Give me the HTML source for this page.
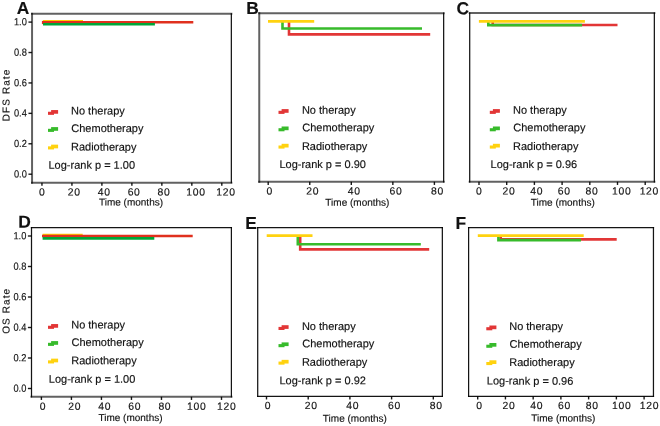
<!DOCTYPE html>
<html><head><meta charset="utf-8"><style>
html,body{margin:0;padding:0;background:#fff;}
body{width:660px;height:426px;overflow:hidden;}
svg{display:block;will-change:transform;}
text{font-family:"Liberation Sans",sans-serif;text-rendering:geometricPrecision;fill:#111;stroke:#111;stroke-width:0.15px;}
</style></head><body>
<svg width="660" height="426" viewBox="0 0 660 426">
<rect width="660" height="426" fill="#fff"/>
<line x1="32.05" y1="13.85" x2="32.05" y2="182.65" stroke="#000" stroke-width="2.0" stroke-opacity="0.62" stroke-linecap="square"/>
<line x1="32.05" y1="13.85" x2="231.35" y2="13.85" stroke="#000" stroke-width="2.0" stroke-opacity="0.62" stroke-linecap="square"/>
<line x1="231.35" y1="13.85" x2="231.35" y2="182.65" stroke="#000" stroke-width="1.25" stroke-opacity="0.92" stroke-linecap="square"/>
<line x1="32.05" y1="182.65" x2="231.35" y2="182.65" stroke="#000" stroke-width="2.0" stroke-opacity="0.62" stroke-linecap="square"/>
<text transform="translate(16.75 14.00) rotate(0.05)" font-size="17.4" text-anchor="start" font-weight="bold">A</text>
<line x1="41.95" y1="182.65" x2="41.95" y2="185.85" stroke="#000" stroke-width="1.4" stroke-opacity="0.9"/>
<text transform="translate(42.30 195.60) rotate(0.05)" font-size="10.4" text-anchor="middle" font-weight="normal" letter-spacing="0.7">0</text>
<line x1="71.93" y1="182.65" x2="71.93" y2="185.85" stroke="#000" stroke-width="1.4" stroke-opacity="0.9"/>
<text transform="translate(74.18 195.60) rotate(0.05)" font-size="10.4" text-anchor="middle" font-weight="normal" letter-spacing="0.7">20</text>
<line x1="101.90" y1="182.65" x2="101.90" y2="185.85" stroke="#000" stroke-width="1.4" stroke-opacity="0.9"/>
<text transform="translate(104.15 195.60) rotate(0.05)" font-size="10.4" text-anchor="middle" font-weight="normal" letter-spacing="0.7">40</text>
<line x1="131.88" y1="182.65" x2="131.88" y2="185.85" stroke="#000" stroke-width="1.4" stroke-opacity="0.9"/>
<text transform="translate(134.12 195.60) rotate(0.05)" font-size="10.4" text-anchor="middle" font-weight="normal" letter-spacing="0.7">60</text>
<line x1="161.85" y1="182.65" x2="161.85" y2="185.85" stroke="#000" stroke-width="1.4" stroke-opacity="0.9"/>
<text transform="translate(164.10 195.60) rotate(0.05)" font-size="10.4" text-anchor="middle" font-weight="normal" letter-spacing="0.7">80</text>
<line x1="191.83" y1="182.65" x2="191.83" y2="185.85" stroke="#000" stroke-width="1.4" stroke-opacity="0.9"/>
<text transform="translate(195.98 195.60) rotate(0.05)" font-size="10.4" text-anchor="middle" font-weight="normal" letter-spacing="0.7">100</text>
<line x1="221.80" y1="182.65" x2="221.80" y2="185.85" stroke="#000" stroke-width="1.4" stroke-opacity="0.9"/>
<text transform="translate(225.95 195.60) rotate(0.05)" font-size="10.4" text-anchor="middle" font-weight="normal" letter-spacing="0.7">120</text>
<text transform="translate(131.00 205.60) rotate(0.05)" font-size="10" text-anchor="middle" font-weight="normal">Time (months)</text>
<line x1="28.45" y1="174.20" x2="32.05" y2="174.20" stroke="#000" stroke-width="1.4" stroke-opacity="0.9"/>
<text transform="translate(26.85 177.40) rotate(0.05) scale(0.9 1)" font-size="10.3" text-anchor="end" font-weight="normal">0.0</text>
<line x1="28.45" y1="143.78" x2="32.05" y2="143.78" stroke="#000" stroke-width="1.4" stroke-opacity="0.9"/>
<text transform="translate(26.85 146.98) rotate(0.05) scale(0.9 1)" font-size="10.3" text-anchor="end" font-weight="normal">0.2</text>
<line x1="28.45" y1="113.36" x2="32.05" y2="113.36" stroke="#000" stroke-width="1.4" stroke-opacity="0.9"/>
<text transform="translate(26.85 116.56) rotate(0.05) scale(0.9 1)" font-size="10.3" text-anchor="end" font-weight="normal">0.4</text>
<line x1="28.45" y1="82.94" x2="32.05" y2="82.94" stroke="#000" stroke-width="1.4" stroke-opacity="0.9"/>
<text transform="translate(26.85 86.14) rotate(0.05) scale(0.9 1)" font-size="10.3" text-anchor="end" font-weight="normal">0.6</text>
<line x1="28.45" y1="52.52" x2="32.05" y2="52.52" stroke="#000" stroke-width="1.4" stroke-opacity="0.9"/>
<text transform="translate(26.85 55.72) rotate(0.05) scale(0.9 1)" font-size="10.3" text-anchor="end" font-weight="normal">0.8</text>
<line x1="28.45" y1="22.10" x2="32.05" y2="22.10" stroke="#000" stroke-width="1.4" stroke-opacity="0.9"/>
<text transform="translate(26.85 25.30) rotate(0.05) scale(0.9 1)" font-size="10.3" text-anchor="end" font-weight="normal">1.0</text>
<text transform="translate(9.50 94.95) rotate(-89.95)" font-size="10" text-anchor="middle" font-weight="normal" letter-spacing="1.1">DFS Rate</text>
<polyline points="43.00,21.30 83.00,21.30" fill="none" stroke="#ffcd00" stroke-width="2.6" stroke-linejoin="miter" stroke-linecap="butt"/>
<polyline points="42.20,22.20 193.30,22.20" fill="none" stroke="#e0301e" stroke-width="2.6" stroke-linejoin="miter" stroke-linecap="butt"/>
<rect x="41.90" y="20.90" width="1.20" height="3.20" fill="#e0301e"/>
<polyline points="43.00,24.20 154.90,24.20" fill="none" stroke="#00a638" stroke-width="2.6" stroke-linejoin="miter" stroke-linecap="butt"/>
<rect x="48.00" y="111.75" width="6.00" height="3.10" fill="#e23636"/>
<rect x="51.10" y="110.05" width="7.00" height="3.70" fill="#e23636"/>
<text transform="translate(71.00 114.45) rotate(0.05)" font-size="11" text-anchor="start" font-weight="normal">No therapy</text>
<rect x="48.00" y="128.80" width="6.00" height="3.10" fill="#37bb2b"/>
<rect x="51.10" y="127.10" width="7.00" height="3.70" fill="#37bb2b"/>
<text transform="translate(71.30 132.00) rotate(0.05)" font-size="11" text-anchor="start" font-weight="normal">Chemotherapy</text>
<rect x="48.00" y="146.35" width="6.00" height="3.10" fill="#ffd20f"/>
<rect x="51.10" y="144.65" width="7.00" height="3.70" fill="#ffd20f"/>
<text transform="translate(71.00 150.60) rotate(0.05)" font-size="11" text-anchor="start" font-weight="normal">Radiotherapy</text>
<text transform="translate(48.50 168.70) rotate(0.05)" font-size="11" text-anchor="start" font-weight="normal">Log-rank p = 1.00</text>
<line x1="259.25" y1="13.15" x2="259.25" y2="181.75" stroke="#000" stroke-width="2.0" stroke-opacity="0.62" stroke-linecap="square"/>
<line x1="259.25" y1="13.15" x2="443.65" y2="13.15" stroke="#000" stroke-width="2.0" stroke-opacity="0.62" stroke-linecap="square"/>
<line x1="443.65" y1="13.15" x2="443.65" y2="181.75" stroke="#000" stroke-width="1.25" stroke-opacity="0.92" stroke-linecap="square"/>
<line x1="259.25" y1="181.75" x2="443.65" y2="181.75" stroke="#000" stroke-width="2.0" stroke-opacity="0.62" stroke-linecap="square"/>
<text transform="translate(246.35 14.10) rotate(0.05)" font-size="17.4" text-anchor="start" font-weight="bold">B</text>
<line x1="268.20" y1="181.75" x2="268.20" y2="184.95" stroke="#000" stroke-width="1.4" stroke-opacity="0.9"/>
<text transform="translate(269.75 194.55) rotate(0.05)" font-size="10.4" text-anchor="middle" font-weight="normal" letter-spacing="0.7">0</text>
<line x1="309.75" y1="181.75" x2="309.75" y2="184.95" stroke="#000" stroke-width="1.4" stroke-opacity="0.9"/>
<text transform="translate(312.80 194.55) rotate(0.05)" font-size="10.4" text-anchor="middle" font-weight="normal" letter-spacing="0.7">20</text>
<line x1="351.30" y1="181.75" x2="351.30" y2="184.95" stroke="#000" stroke-width="1.4" stroke-opacity="0.9"/>
<text transform="translate(354.35 194.55) rotate(0.05)" font-size="10.4" text-anchor="middle" font-weight="normal" letter-spacing="0.7">40</text>
<line x1="392.85" y1="181.75" x2="392.85" y2="184.95" stroke="#000" stroke-width="1.4" stroke-opacity="0.9"/>
<text transform="translate(395.90 194.55) rotate(0.05)" font-size="10.4" text-anchor="middle" font-weight="normal" letter-spacing="0.7">60</text>
<line x1="434.40" y1="181.75" x2="434.40" y2="184.95" stroke="#000" stroke-width="1.4" stroke-opacity="0.9"/>
<text transform="translate(437.45 194.55) rotate(0.05)" font-size="10.4" text-anchor="middle" font-weight="normal" letter-spacing="0.7">80</text>
<text transform="translate(357.40 205.70) rotate(0.05)" font-size="10" text-anchor="middle" font-weight="normal">Time (months)</text>
<polyline points="289.00,21.40 289.00,34.40 430.20,34.40" fill="none" stroke="#e23636" stroke-width="2.6" stroke-linejoin="miter" stroke-linecap="butt"/>
<polyline points="282.50,21.40 282.50,28.55 422.00,28.55" fill="none" stroke="#37bb2b" stroke-width="2.6" stroke-linejoin="miter" stroke-linecap="butt"/>
<polyline points="268.00,21.40 314.20,21.40" fill="none" stroke="#ffd20f" stroke-width="2.6" stroke-linejoin="miter" stroke-linecap="butt"/>
<rect x="278.50" y="110.80" width="6.00" height="3.10" fill="#e23636"/>
<rect x="281.60" y="109.10" width="7.00" height="3.70" fill="#e23636"/>
<text transform="translate(301.90 113.75) rotate(0.05)" font-size="11" text-anchor="start" font-weight="normal">No therapy</text>
<rect x="278.50" y="128.20" width="6.00" height="3.10" fill="#37bb2b"/>
<rect x="281.60" y="126.50" width="7.00" height="3.70" fill="#37bb2b"/>
<text transform="translate(302.20 131.20) rotate(0.05)" font-size="11" text-anchor="start" font-weight="normal">Chemotherapy</text>
<rect x="278.50" y="145.50" width="6.00" height="3.10" fill="#ffd20f"/>
<rect x="281.60" y="143.80" width="7.00" height="3.70" fill="#ffd20f"/>
<text transform="translate(301.90 150.00) rotate(0.05)" font-size="11" text-anchor="start" font-weight="normal">Radiotherapy</text>
<text transform="translate(279.40 168.00) rotate(0.05)" font-size="11" text-anchor="start" font-weight="normal">Log-rank p = 0.90</text>
<line x1="469.70" y1="13.05" x2="469.70" y2="181.75" stroke="#000" stroke-width="1.25" stroke-opacity="0.92" stroke-linecap="square"/>
<line x1="469.70" y1="13.05" x2="654.35" y2="13.05" stroke="#000" stroke-width="2.0" stroke-opacity="0.62" stroke-linecap="square"/>
<line x1="654.35" y1="13.05" x2="654.35" y2="181.75" stroke="#000" stroke-width="1.25" stroke-opacity="0.92" stroke-linecap="square"/>
<line x1="469.70" y1="181.75" x2="654.35" y2="181.75" stroke="#000" stroke-width="2.0" stroke-opacity="0.62" stroke-linecap="square"/>
<text transform="translate(456.45 14.30) rotate(0.05)" font-size="17.4" text-anchor="start" font-weight="bold">C</text>
<line x1="479.00" y1="181.75" x2="479.00" y2="184.95" stroke="#000" stroke-width="1.4" stroke-opacity="0.9"/>
<text transform="translate(479.35 194.40) rotate(0.05)" font-size="10.4" text-anchor="middle" font-weight="normal" letter-spacing="0.7">0</text>
<line x1="506.70" y1="181.75" x2="506.70" y2="184.95" stroke="#000" stroke-width="1.4" stroke-opacity="0.9"/>
<text transform="translate(508.95 194.40) rotate(0.05)" font-size="10.4" text-anchor="middle" font-weight="normal" letter-spacing="0.7">20</text>
<line x1="534.40" y1="181.75" x2="534.40" y2="184.95" stroke="#000" stroke-width="1.4" stroke-opacity="0.9"/>
<text transform="translate(536.65 194.40) rotate(0.05)" font-size="10.4" text-anchor="middle" font-weight="normal" letter-spacing="0.7">40</text>
<line x1="562.10" y1="181.75" x2="562.10" y2="184.95" stroke="#000" stroke-width="1.4" stroke-opacity="0.9"/>
<text transform="translate(564.35 194.40) rotate(0.05)" font-size="10.4" text-anchor="middle" font-weight="normal" letter-spacing="0.7">60</text>
<line x1="589.80" y1="181.75" x2="589.80" y2="184.95" stroke="#000" stroke-width="1.4" stroke-opacity="0.9"/>
<text transform="translate(592.05 194.40) rotate(0.05)" font-size="10.4" text-anchor="middle" font-weight="normal" letter-spacing="0.7">80</text>
<line x1="617.50" y1="181.75" x2="617.50" y2="184.95" stroke="#000" stroke-width="1.4" stroke-opacity="0.9"/>
<text transform="translate(621.65 194.40) rotate(0.05)" font-size="10.4" text-anchor="middle" font-weight="normal" letter-spacing="0.7">100</text>
<line x1="645.20" y1="181.75" x2="645.20" y2="184.95" stroke="#000" stroke-width="1.4" stroke-opacity="0.9"/>
<text transform="translate(649.35 194.40) rotate(0.05)" font-size="10.4" text-anchor="middle" font-weight="normal" letter-spacing="0.7">120</text>
<text transform="translate(562.80 205.70) rotate(0.05)" font-size="10" text-anchor="middle" font-weight="normal">Time (months)</text>
<polyline points="492.70,21.35 492.70,25.00 617.50,25.00" fill="none" stroke="#e23636" stroke-width="2.6" stroke-linejoin="miter" stroke-linecap="butt"/>
<polyline points="488.30,21.35 488.30,25.10 582.10,25.10" fill="none" stroke="#37bb2b" stroke-width="2.6" stroke-linejoin="miter" stroke-linecap="butt"/>
<polyline points="478.90,21.35 584.90,21.35" fill="none" stroke="#ffd20f" stroke-width="2.6" stroke-linejoin="miter" stroke-linecap="butt"/>
<rect x="489.80" y="110.80" width="6.00" height="3.10" fill="#e23636"/>
<rect x="492.90" y="109.10" width="7.00" height="3.70" fill="#e23636"/>
<text transform="translate(513.00 113.75) rotate(0.05)" font-size="11" text-anchor="start" font-weight="normal">No therapy</text>
<rect x="489.80" y="128.20" width="6.00" height="3.10" fill="#37bb2b"/>
<rect x="492.90" y="126.50" width="7.00" height="3.70" fill="#37bb2b"/>
<text transform="translate(513.30 131.20) rotate(0.05)" font-size="11" text-anchor="start" font-weight="normal">Chemotherapy</text>
<rect x="489.80" y="145.50" width="6.00" height="3.10" fill="#ffd20f"/>
<rect x="492.90" y="143.80" width="7.00" height="3.70" fill="#ffd20f"/>
<text transform="translate(513.00 150.00) rotate(0.05)" font-size="11" text-anchor="start" font-weight="normal">Radiotherapy</text>
<text transform="translate(490.60 168.00) rotate(0.05)" font-size="11" text-anchor="start" font-weight="normal">Log-rank p = 0.96</text>
<line x1="31.50" y1="227.60" x2="31.50" y2="396.75" stroke="#000" stroke-width="1.25" stroke-opacity="0.92" stroke-linecap="square"/>
<line x1="31.50" y1="227.60" x2="231.40" y2="227.60" stroke="#000" stroke-width="1.25" stroke-opacity="0.92" stroke-linecap="square"/>
<line x1="231.40" y1="227.60" x2="231.40" y2="396.75" stroke="#000" stroke-width="1.25" stroke-opacity="0.92" stroke-linecap="square"/>
<line x1="31.50" y1="396.75" x2="231.40" y2="396.75" stroke="#000" stroke-width="2.0" stroke-opacity="0.62" stroke-linecap="square"/>
<text transform="translate(18.25 227.70) rotate(0.05)" font-size="17.4" text-anchor="start" font-weight="bold">D</text>
<line x1="41.40" y1="396.75" x2="41.40" y2="399.95" stroke="#000" stroke-width="1.4" stroke-opacity="0.9"/>
<text transform="translate(42.95 409.70) rotate(0.05)" font-size="10.4" text-anchor="middle" font-weight="normal" letter-spacing="0.7">0</text>
<line x1="71.42" y1="396.75" x2="71.42" y2="399.95" stroke="#000" stroke-width="1.4" stroke-opacity="0.9"/>
<text transform="translate(74.82 409.70) rotate(0.05)" font-size="10.4" text-anchor="middle" font-weight="normal" letter-spacing="0.7">20</text>
<line x1="101.43" y1="396.75" x2="101.43" y2="399.95" stroke="#000" stroke-width="1.4" stroke-opacity="0.9"/>
<text transform="translate(104.83 409.70) rotate(0.05)" font-size="10.4" text-anchor="middle" font-weight="normal" letter-spacing="0.7">40</text>
<line x1="131.45" y1="396.75" x2="131.45" y2="399.95" stroke="#000" stroke-width="1.4" stroke-opacity="0.9"/>
<text transform="translate(134.85 409.70) rotate(0.05)" font-size="10.4" text-anchor="middle" font-weight="normal" letter-spacing="0.7">60</text>
<line x1="161.47" y1="396.75" x2="161.47" y2="399.95" stroke="#000" stroke-width="1.4" stroke-opacity="0.9"/>
<text transform="translate(164.87 409.70) rotate(0.05)" font-size="10.4" text-anchor="middle" font-weight="normal" letter-spacing="0.7">80</text>
<line x1="191.48" y1="396.75" x2="191.48" y2="399.95" stroke="#000" stroke-width="1.4" stroke-opacity="0.9"/>
<text transform="translate(196.73 409.70) rotate(0.05)" font-size="10.4" text-anchor="middle" font-weight="normal" letter-spacing="0.7">100</text>
<line x1="221.50" y1="396.75" x2="221.50" y2="399.95" stroke="#000" stroke-width="1.4" stroke-opacity="0.9"/>
<text transform="translate(226.75 409.70) rotate(0.05)" font-size="10.4" text-anchor="middle" font-weight="normal" letter-spacing="0.7">120</text>
<text transform="translate(130.50 421.10) rotate(0.05)" font-size="10" text-anchor="middle" font-weight="normal">Time (months)</text>
<line x1="27.90" y1="388.50" x2="31.50" y2="388.50" stroke="#000" stroke-width="1.4" stroke-opacity="0.9"/>
<text transform="translate(26.30 391.70) rotate(0.05) scale(0.9 1)" font-size="10.3" text-anchor="end" font-weight="normal">0.0</text>
<line x1="27.90" y1="358.00" x2="31.50" y2="358.00" stroke="#000" stroke-width="1.4" stroke-opacity="0.9"/>
<text transform="translate(26.30 361.20) rotate(0.05) scale(0.9 1)" font-size="10.3" text-anchor="end" font-weight="normal">0.2</text>
<line x1="27.90" y1="327.50" x2="31.50" y2="327.50" stroke="#000" stroke-width="1.4" stroke-opacity="0.9"/>
<text transform="translate(26.30 330.70) rotate(0.05) scale(0.9 1)" font-size="10.3" text-anchor="end" font-weight="normal">0.4</text>
<line x1="27.90" y1="297.00" x2="31.50" y2="297.00" stroke="#000" stroke-width="1.4" stroke-opacity="0.9"/>
<text transform="translate(26.30 300.20) rotate(0.05) scale(0.9 1)" font-size="10.3" text-anchor="end" font-weight="normal">0.6</text>
<line x1="27.90" y1="266.50" x2="31.50" y2="266.50" stroke="#000" stroke-width="1.4" stroke-opacity="0.9"/>
<text transform="translate(26.30 269.70) rotate(0.05) scale(0.9 1)" font-size="10.3" text-anchor="end" font-weight="normal">0.8</text>
<line x1="27.90" y1="236.00" x2="31.50" y2="236.00" stroke="#000" stroke-width="1.4" stroke-opacity="0.9"/>
<text transform="translate(26.30 239.20) rotate(0.05) scale(0.9 1)" font-size="10.3" text-anchor="end" font-weight="normal">1.0</text>
<text transform="translate(9.50 310.75) rotate(-89.95)" font-size="10" text-anchor="middle" font-weight="normal" letter-spacing="1.1">OS Rate</text>
<polyline points="42.60,235.00 82.70,235.00" fill="none" stroke="#ffcd00" stroke-width="2.6" stroke-linejoin="miter" stroke-linecap="butt"/>
<polyline points="42.00,236.00 192.70,236.00" fill="none" stroke="#e0301e" stroke-width="2.6" stroke-linejoin="miter" stroke-linecap="butt"/>
<polyline points="42.60,238.40 154.30,238.40" fill="none" stroke="#00a638" stroke-width="2.6" stroke-linejoin="miter" stroke-linecap="butt"/>
<rect x="48.00" y="325.75" width="6.00" height="3.10" fill="#e23636"/>
<rect x="51.10" y="324.05" width="7.00" height="3.70" fill="#e23636"/>
<text transform="translate(71.20 328.45) rotate(0.05)" font-size="11" text-anchor="start" font-weight="normal">No therapy</text>
<rect x="48.00" y="342.80" width="6.00" height="3.10" fill="#37bb2b"/>
<rect x="51.10" y="341.10" width="7.00" height="3.70" fill="#37bb2b"/>
<text transform="translate(71.50 346.00) rotate(0.05)" font-size="11" text-anchor="start" font-weight="normal">Chemotherapy</text>
<rect x="48.00" y="360.35" width="6.00" height="3.10" fill="#ffd20f"/>
<rect x="51.10" y="358.65" width="7.00" height="3.70" fill="#ffd20f"/>
<text transform="translate(71.20 364.30) rotate(0.05)" font-size="11" text-anchor="start" font-weight="normal">Radiotherapy</text>
<text transform="translate(48.80 382.80) rotate(0.05)" font-size="11" text-anchor="start" font-weight="normal">Log-rank p = 1.00</text>
<line x1="257.70" y1="227.60" x2="257.70" y2="396.25" stroke="#000" stroke-width="1.25" stroke-opacity="0.92" stroke-linecap="square"/>
<line x1="257.70" y1="227.60" x2="442.35" y2="227.60" stroke="#000" stroke-width="1.25" stroke-opacity="0.92" stroke-linecap="square"/>
<line x1="442.35" y1="227.60" x2="442.35" y2="396.25" stroke="#000" stroke-width="1.25" stroke-opacity="0.92" stroke-linecap="square"/>
<line x1="257.70" y1="396.25" x2="442.35" y2="396.25" stroke="#000" stroke-width="1.25" stroke-opacity="0.92" stroke-linecap="square"/>
<text transform="translate(245.15 228.90) rotate(0.05)" font-size="17.4" text-anchor="start" font-weight="bold">E</text>
<line x1="266.50" y1="396.25" x2="266.50" y2="399.45" stroke="#000" stroke-width="1.4" stroke-opacity="0.9"/>
<text transform="translate(267.95 408.90) rotate(0.05)" font-size="10.4" text-anchor="middle" font-weight="normal" letter-spacing="0.7">0</text>
<line x1="308.20" y1="396.25" x2="308.20" y2="399.45" stroke="#000" stroke-width="1.4" stroke-opacity="0.9"/>
<text transform="translate(311.15 408.90) rotate(0.05)" font-size="10.4" text-anchor="middle" font-weight="normal" letter-spacing="0.7">20</text>
<line x1="349.90" y1="396.25" x2="349.90" y2="399.45" stroke="#000" stroke-width="1.4" stroke-opacity="0.9"/>
<text transform="translate(352.85 408.90) rotate(0.05)" font-size="10.4" text-anchor="middle" font-weight="normal" letter-spacing="0.7">40</text>
<line x1="391.60" y1="396.25" x2="391.60" y2="399.45" stroke="#000" stroke-width="1.4" stroke-opacity="0.9"/>
<text transform="translate(394.55 408.90) rotate(0.05)" font-size="10.4" text-anchor="middle" font-weight="normal" letter-spacing="0.7">60</text>
<line x1="433.30" y1="396.25" x2="433.30" y2="399.45" stroke="#000" stroke-width="1.4" stroke-opacity="0.9"/>
<text transform="translate(436.25 408.90) rotate(0.05)" font-size="10.4" text-anchor="middle" font-weight="normal" letter-spacing="0.7">80</text>
<text transform="translate(354.90 421.70) rotate(0.05)" font-size="10" text-anchor="middle" font-weight="normal">Time (months)</text>
<polyline points="300.20,235.60 300.20,249.40 429.20,249.40" fill="none" stroke="#e23636" stroke-width="2.6" stroke-linejoin="miter" stroke-linecap="butt"/>
<polyline points="297.80,235.60 297.80,244.20 420.80,244.20" fill="none" stroke="#37bb2b" stroke-width="2.6" stroke-linejoin="miter" stroke-linecap="butt"/>
<polyline points="266.70,235.60 312.50,235.60" fill="none" stroke="#ffd20f" stroke-width="2.6" stroke-linejoin="miter" stroke-linecap="butt"/>
<rect x="278.50" y="326.90" width="6.00" height="3.10" fill="#e23636"/>
<rect x="281.60" y="325.20" width="7.00" height="3.70" fill="#e23636"/>
<text transform="translate(301.90 329.90) rotate(0.05)" font-size="11" text-anchor="start" font-weight="normal">No therapy</text>
<rect x="278.50" y="344.10" width="6.00" height="3.10" fill="#37bb2b"/>
<rect x="281.60" y="342.40" width="7.00" height="3.70" fill="#37bb2b"/>
<text transform="translate(302.20 347.15) rotate(0.05)" font-size="11" text-anchor="start" font-weight="normal">Chemotherapy</text>
<rect x="278.50" y="361.55" width="6.00" height="3.10" fill="#ffd20f"/>
<rect x="281.60" y="359.85" width="7.00" height="3.70" fill="#ffd20f"/>
<text transform="translate(301.90 365.70) rotate(0.05)" font-size="11" text-anchor="start" font-weight="normal">Radiotherapy</text>
<text transform="translate(279.40 384.30) rotate(0.05)" font-size="11" text-anchor="start" font-weight="normal">Log-rank p = 0.92</text>
<line x1="468.60" y1="227.60" x2="468.60" y2="396.25" stroke="#000" stroke-width="1.25" stroke-opacity="0.92" stroke-linecap="square"/>
<line x1="468.60" y1="227.60" x2="653.45" y2="227.60" stroke="#000" stroke-width="1.25" stroke-opacity="0.92" stroke-linecap="square"/>
<line x1="653.45" y1="227.60" x2="653.45" y2="396.25" stroke="#000" stroke-width="1.25" stroke-opacity="0.92" stroke-linecap="square"/>
<line x1="468.60" y1="396.25" x2="653.45" y2="396.25" stroke="#000" stroke-width="1.25" stroke-opacity="0.92" stroke-linecap="square"/>
<text transform="translate(455.55 228.90) rotate(0.05)" font-size="17.4" text-anchor="start" font-weight="bold">F</text>
<line x1="477.70" y1="396.25" x2="477.70" y2="399.45" stroke="#000" stroke-width="1.4" stroke-opacity="0.9"/>
<text transform="translate(479.55 408.90) rotate(0.05)" font-size="10.4" text-anchor="middle" font-weight="normal" letter-spacing="0.7">0</text>
<line x1="505.43" y1="396.25" x2="505.43" y2="399.45" stroke="#000" stroke-width="1.4" stroke-opacity="0.9"/>
<text transform="translate(509.08 408.90) rotate(0.05)" font-size="10.4" text-anchor="middle" font-weight="normal" letter-spacing="0.7">20</text>
<line x1="533.17" y1="396.25" x2="533.17" y2="399.45" stroke="#000" stroke-width="1.4" stroke-opacity="0.9"/>
<text transform="translate(536.82 408.90) rotate(0.05)" font-size="10.4" text-anchor="middle" font-weight="normal" letter-spacing="0.7">40</text>
<line x1="560.90" y1="396.25" x2="560.90" y2="399.45" stroke="#000" stroke-width="1.4" stroke-opacity="0.9"/>
<text transform="translate(564.55 408.90) rotate(0.05)" font-size="10.4" text-anchor="middle" font-weight="normal" letter-spacing="0.7">60</text>
<line x1="588.63" y1="396.25" x2="588.63" y2="399.45" stroke="#000" stroke-width="1.4" stroke-opacity="0.9"/>
<text transform="translate(592.28 408.90) rotate(0.05)" font-size="10.4" text-anchor="middle" font-weight="normal" letter-spacing="0.7">80</text>
<line x1="616.37" y1="396.25" x2="616.37" y2="399.45" stroke="#000" stroke-width="1.4" stroke-opacity="0.9"/>
<text transform="translate(621.82 408.90) rotate(0.05)" font-size="10.4" text-anchor="middle" font-weight="normal" letter-spacing="0.7">100</text>
<line x1="644.10" y1="396.25" x2="644.10" y2="399.45" stroke="#000" stroke-width="1.4" stroke-opacity="0.9"/>
<text transform="translate(649.55 408.90) rotate(0.05)" font-size="10.4" text-anchor="middle" font-weight="normal" letter-spacing="0.7">120</text>
<text transform="translate(563.30 421.40) rotate(0.05)" font-size="10" text-anchor="middle" font-weight="normal">Time (months)</text>
<polyline points="500.70,235.60 500.70,239.40 616.70,239.40" fill="none" stroke="#e23636" stroke-width="2.6" stroke-linejoin="miter" stroke-linecap="butt"/>
<polyline points="498.40,235.60 498.40,240.15 581.00,240.15" fill="none" stroke="#37bb2b" stroke-width="2.6" stroke-linejoin="miter" stroke-linecap="butt"/>
<polyline points="477.80,235.60 583.70,235.60" fill="none" stroke="#ffd20f" stroke-width="2.6" stroke-linejoin="miter" stroke-linecap="butt"/>
<rect x="486.30" y="327.20" width="6.00" height="3.10" fill="#e23636"/>
<rect x="489.40" y="325.50" width="7.00" height="3.70" fill="#e23636"/>
<text transform="translate(509.20 329.95) rotate(0.05)" font-size="11" text-anchor="start" font-weight="normal">No therapy</text>
<rect x="486.30" y="344.70" width="6.00" height="3.10" fill="#37bb2b"/>
<rect x="489.40" y="343.00" width="7.00" height="3.70" fill="#37bb2b"/>
<text transform="translate(509.50 347.80) rotate(0.05)" font-size="11" text-anchor="start" font-weight="normal">Chemotherapy</text>
<rect x="486.30" y="362.00" width="6.00" height="3.10" fill="#ffd20f"/>
<rect x="489.40" y="360.30" width="7.00" height="3.70" fill="#ffd20f"/>
<text transform="translate(509.20 366.00) rotate(0.05)" font-size="11" text-anchor="start" font-weight="normal">Radiotherapy</text>
<text transform="translate(486.80 384.60) rotate(0.05)" font-size="11" text-anchor="start" font-weight="normal">Log-rank p = 0.96</text>
</svg>
</body></html>
